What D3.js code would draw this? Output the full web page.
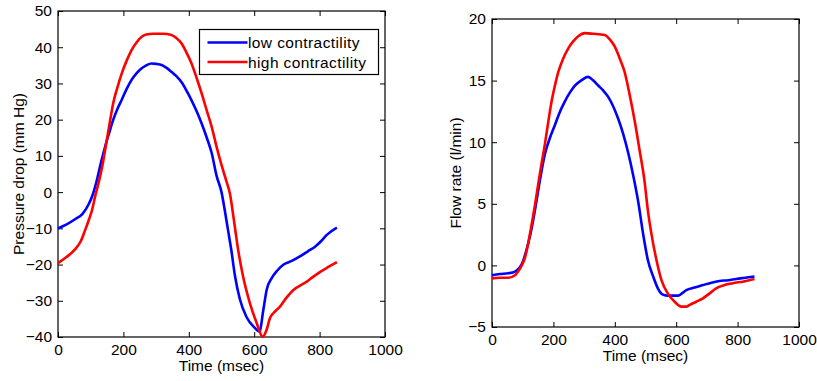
<!DOCTYPE html>
<html>
<head>
<meta charset="utf-8">
<script src="https://cdn.jsdelivr.net/npm/d3@7"></script>
<style>
  body { margin: 0; background: #fff; }
  svg { display: block; font-family: "Liberation Sans", Arial, sans-serif; }
  .tick text { font-size: 15.5px; fill: #000; }
  .axis-label { font-size: 15.5px; fill: #000; }
  .legend-label { font-size: 15.5px; letter-spacing: 0.4px; }
</style>
</head>
<body>
<script>
/*
 * Data: [time (msec), value] pairs.
 */

const seriesNames = ['low contractility', 'high contractility'];
const timeTicks = [0, 200, 400, 600, 800, 1000];
const pressureTicks = [-40, -30, -20, -10, 0, 10, 20, 30, 40, 50];
const flowTicks = [-5, 0, 5, 10, 15, 20];

const pressureLow = [
  [0, -10], [25, -9], [52, -7.5], [75, -6], [93, -3.5], [105, -1], [118, 3],
  [131, 8], [144, 12.5], [157, 16.5], [169, 20], [182, 23], [195, 25.5],
  [210, 28.5], [225, 31], [240, 32.8], [256, 34.2], [270, 35], [286, 35.5],
  [300, 35.4], [317, 35.1], [332, 34.3], [347, 33.2], [362, 32], [378, 30.3],
  [393, 28], [408, 25.4], [424, 22.3], [439, 19], [455, 15], [470, 10.8],
  [485, 4.5], [500, 0], [510, -5], [520, -10.5], [530, -16], [541, -23],
  [556, -29.5], [576, -34.4], [602, -37.5], [616, -38.5], [628, -32.5],
  [638, -27], [654, -23.7], [670, -21.7], [690, -20], [715, -19],
  [741, -17.7], [765, -16.3], [787, -15], [805, -13.5], [822, -11.8],
  [853, -9.8]
];

const pressureHigh = [
  [0, -19.6], [25, -18], [52, -15.8], [70, -13.5], [83, -10.5], [95, -7.5],
  [104, -5], [114, -1], [124, 2.5], [134, 6.5], [144, 11.6], [157, 18.5],
  [169, 24.6], [182, 29], [195, 32.8], [210, 36.3], [225, 39.2], [240, 41.3],
  [256, 42.9], [270, 43.5], [290, 43.7], [320, 43.7], [347, 43.4],
  [362, 42.5], [378, 41], [393, 38.5], [408, 35.6], [424, 31.5], [439, 27.3],
  [455, 22.5], [470, 18], [485, 12.5], [500, 7.5], [515, 3], [526, -0.5],
  [536, -6.5], [543, -11], [551, -16], [566, -23.3], [587, -30.7],
  [607, -36], [626, -39.9], [638, -38], [648, -34.8], [660, -33.3],
  [679, -31.6], [700, -29], [720, -27], [740, -25.8], [761, -24.7],
  [780, -23.4], [802, -22], [828, -20.6], [853, -19.3]
];

const flowLow = [
  [0, -0.8], [25, -0.7], [53, -0.64], [75, -0.5], [85, -0.3], [97, 0.1],
  [107, 0.8], [118, 1.8], [129, 3], [140, 4.5], [150, 6], [161, 7.6],
  [172, 9], [188, 10.3], [205, 11.4], [220, 12.4], [237, 13.3], [253, 14],
  [270, 14.6], [290, 15], [313, 15.3], [330, 15], [346, 14.6], [362, 14.2],
  [378, 13.7], [395, 12.9], [411, 11.9], [427, 10.7], [443, 9.2], [460, 7.3],
  [476, 5.2], [492, 2.6], [508, 0.4], [525, -0.9], [541, -1.9], [555, -2.35],
  [570, -2.45], [606, -2.45], [620, -2.25], [633, -2], [660, -1.8],
  [687, -1.6], [715, -1.4], [741, -1.27], [770, -1.2], [795, -1.1],
  [825, -1], [855, -0.9]
];

const flowHigh = [
  [0, -1.05], [25, -1], [53, -1], [75, -0.8], [85, -0.5], [97, 0],
  [107, 0.6], [118, 1.8], [129, 3.3], [140, 4.9], [150, 6.5], [161, 8.2],
  [172, 9.8], [183, 11.6], [194, 13.3], [205, 14.6], [216, 15.7],
  [232, 16.8], [248, 17.6], [265, 18.2], [281, 18.6], [302, 18.85],
  [330, 18.8], [367, 18.7], [385, 18.3], [400, 17.75], [416, 16.8],
  [432, 15.7], [448, 13.9], [465, 11.7], [481, 9.3], [497, 6.8], [508, 4.4],
  [519, 2.6], [536, 0.4], [552, -1.2], [573, -2.3], [595, -2.95],
  [617, -3.35], [632, -3.35], [644, -3.2], [665, -2.95], [687, -2.67],
  [710, -2.25], [730, -1.86], [757, -1.6], [784, -1.45], [820, -1.3],
  [855, -1.1]
];

/*
 * Layout.
 */

const WIDTH = 817;
const HEIGHT = 381;
const COLORS = ['#0000ff', '#ff0000'];
const TICK = 5;

const svg = d3.select('body')
  .append('svg')
    .attr('width', WIDTH)
    .attr('height', HEIGHT);

/*
 * Draws one MATLAB style panel: boxed, inward ticks on all four sides.
 */

const plotPanel = (opts) => {
  const {left, right, top, bottom, yDomain, yTicks, series, yLabel} = opts;

  const x = d3.scaleLinear().domain([0, 1000]).range([left, right]);
  const y = d3.scaleLinear().domain(yDomain).range([bottom, top]);
  const fmt = d3.format('d');

  const g = svg.append('g');

  // bottom axis with labels
  g.append('g')
      .attr('transform', `translate(0, ${bottom})`)
      .call(d3.axisBottom(x).tickValues(timeTicks).tickFormat(fmt)
        .tickSizeInner(-TICK).tickSizeOuter(0).tickPadding(7));

  // left axis with labels
  g.append('g')
      .attr('transform', `translate(${left}, 0)`)
      .call(d3.axisLeft(y).tickValues(yTicks).tickFormat(fmt)
        .tickSizeInner(-TICK).tickSizeOuter(0).tickPadding(6));

  // mirrored axes, ticks only
  g.append('g')
      .attr('transform', `translate(0, ${top})`)
      .call(d3.axisTop(x).tickValues(timeTicks).tickSizeInner(-TICK)
        .tickSizeOuter(0).tickFormat(''));

  g.append('g')
      .attr('transform', `translate(${right}, 0)`)
      .call(d3.axisRight(y).tickValues(yTicks).tickSizeInner(-TICK)
        .tickSizeOuter(0).tickFormat(''));

  g.selectAll('.domain').remove();
  g.selectAll('.tick line').attr('stroke', '#000');

  // the box
  g.append('rect')
      .attr('x', left)
      .attr('y', top)
      .attr('width', right - left)
      .attr('height', bottom - top)
      .attr('fill', 'none')
      .attr('stroke', '#000')
      .attr('stroke-width', 1.2);

  // the curves
  const line = d3.line()
      .x(d => x(d[0]))
      .y(d => y(d[1]))
      .curve(d3.curveMonotoneX);

  series.forEach((s, i) => {
    g.append('path')
        .datum(s)
        .attr('d', line)
        .attr('fill', 'none')
        .attr('stroke', COLORS[i])
        .attr('stroke-width', 2.6)
        .attr('stroke-linejoin', 'round');
  });

  // axis labels
  g.append('text')
      .attr('class', 'axis-label')
      .attr('x', (left + right) / 2)
      .attr('y', bottom + 34)
      .attr('text-anchor', 'middle')
      .text('Time (msec)');

  g.append('text')
      .attr('class', 'axis-label')
      .attr('transform', `translate(${opts.yLabelX}, ${(top + bottom) / 2}) rotate(-90)`)
      .attr('text-anchor', 'middle')
      .text(yLabel);

  return {x, y};
};

plotPanel({
  left: 58, right: 385, top: 11, bottom: 337,
  yDomain: [-40, 50], yTicks: pressureTicks,
  series: [pressureLow, pressureHigh],
  yLabel: 'Pressure drop (mm Hg)', yLabelX: 24
});

plotPanel({
  left: 492, right: 799, top: 19, bottom: 327,
  yDomain: [-5, 20], yTicks: flowTicks,
  series: [flowLow, flowHigh],
  yLabel: 'Flow rate (l/min)', yLabelX: 461
});

/*
 * Legend in the left panel.
 */

const legend = svg.append('g')
    .attr('transform', 'translate(199.5, 29.5)');

legend.append('rect')
    .attr('width', 179)
    .attr('height', 45)
    .attr('fill', '#fff')
    .attr('stroke', '#000')
    .attr('stroke-width', 1.2);

seriesNames.forEach((name, i) => {
  const ly = 13 + i * 19.5;
  legend.append('line')
      .attr('x1', 8)
      .attr('x2', 48)
      .attr('y1', ly)
      .attr('y2', ly)
      .attr('stroke', COLORS[i])
      .attr('stroke-width', 2.6);
  legend.append('text')
      .attr('class', 'legend-label')
      .attr('x', 48.5)
      .attr('y', ly + 5.5)
      .text(name);
});
</script>
</body>
</html>
